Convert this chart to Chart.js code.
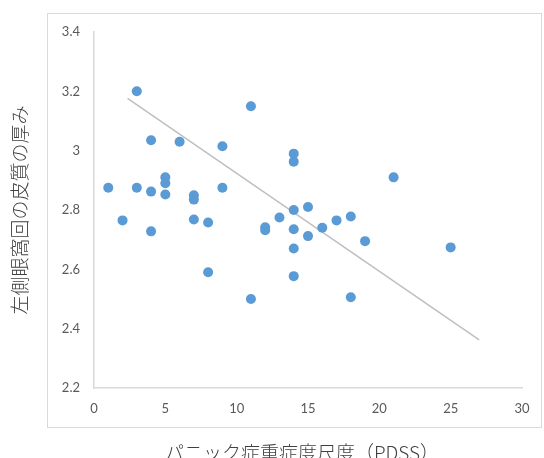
<!DOCTYPE html>
<html>
<head>
<meta charset="utf-8">
<script src="https://cdn.jsdelivr.net/npm/chart.js@4/dist/chart.umd.min.js"></script>
<style>
  html, body { margin: 0; padding: 0; background: #fff; }
  #wrap { width: 544px; height: 458px; }
</style>
</head>
<body>
<div id="wrap"><canvas id="chart" width="544" height="458"></canvas></div>
<script>
// PDSS score (x) and left orbital cortex thickness (y)
const pdss = [1, 2, 3, 3, 4, 4, 4, 5, 5, 5, 6, 7, 7, 7, 8, 8, 9, 9, 11, 11,
  12, 12, 13, 14, 14, 14, 14, 14, 14, 15, 15, 16, 17, 18, 18, 19, 21, 25];
const thickness = [2.875, 2.765, 3.2, 2.875, 3.035, 2.862, 2.728, 2.91, 2.89, 2.852,
  3.03, 2.85, 2.835, 2.768, 2.758, 2.59, 3.015, 2.875, 3.15, 2.5,
  2.742, 2.732, 2.775, 2.99, 2.963, 2.8, 2.735, 2.67, 2.577, 2.81,
  2.712, 2.74, 2.765, 2.778, 2.506, 2.695, 2.91, 2.674];

// trend line end points as drawn in the picture
const trendX = [2.35, 27];
const trendY = [3.176, 2.362];

const xTicks = [0, 5, 10, 15, 20, 25, 30];
const yTicks = [2.2, 2.4, 2.6, 2.8, 3, 3.2, 3.4];

const xTitle = "パニック症重症度尺度（PDSS）";
const yTitle = "左側眼窩回の皮質の厚み";

const tickFont = { family: "Lato, 'Open Sans', sans-serif", size: 13 };
const titleFont = "300 19px 'Noto Sans CJK JP', sans-serif";

const framePlugin = {
  id: "frame",
  beforeDraw(chart) {
    const ctx = chart.ctx;
    ctx.save();
    ctx.fillStyle = "#fff";
    ctx.fillRect(0, 0, chart.width, chart.height);
    ctx.strokeStyle = "#d9d9d9";
    ctx.lineWidth = 1;
    ctx.strokeRect(47.5, 13.5, 494, 414);
    ctx.restore();
  },
  afterDraw(chart) {
    const ctx = chart.ctx;
    ctx.save();
    ctx.fillStyle = "#404040";
    ctx.font = titleFont;
    ctx.textAlign = "center";
    ctx.textBaseline = "middle";
    ctx.fillText(xTitle, 302, 453);
    ctx.translate(20, 210);
    ctx.rotate(-Math.PI / 2);
    ctx.fillText(yTitle, 0, 0);
    ctx.restore();
  }
};

new Chart(document.getElementById("chart"), {
  type: "scatter",
  data: {
    datasets: [
      {
        label: "data",
        data: pdss.map((x, i) => ({ x: x, y: thickness[i] })),
        backgroundColor: "#5b9bd5",
        borderColor: "#5b9bd5",
        pointRadius: 5,
        borderWidth: 0,
        order: 1
      },
      {
        label: "trend",
        type: "line",
        data: trendX.map((x, i) => ({ x: x, y: trendY[i] })),
        borderColor: "#bfbfbf",
        borderWidth: 1.5,
        pointRadius: 0,
        fill: false,
        order: 2
      }
    ]
  },
  options: {
    responsive: false,
    animation: false,
    layout: { padding: { left: 0, top: 32, right: 22, bottom: 0 } },
    plugins: {
      legend: { display: false },
      tooltip: { enabled: false }
    },
    scales: {
      x: {
        type: "linear",
        min: 0,
        max: 30,
        afterBuildTicks: (axis) => { axis.ticks = xTicks.map(v => ({ value: v })); },
        afterFit: (axis) => { axis.height = 70; },
        grid: { display: false, drawTicks: false },
        border: { display: true, color: "#d9d9d9", width: 1.5 },
        ticks: { color: "#595959", font: tickFont, padding: 13, maxRotation: 0, autoSkip: false }
      },
      y: {
        type: "linear",
        min: 2.2,
        max: 3.4,
        afterBuildTicks: (axis) => { axis.ticks = yTicks.map(v => ({ value: v })); },
        afterFit: (axis) => { axis.width = 94; },
        grid: { display: false, drawTicks: false },
        border: { display: true, color: "#d9d9d9", width: 1.5 },
        ticks: { color: "#595959", font: tickFont, padding: 14, autoSkip: false,
          callback: (v) => String(v) }
      }
    }
  },
  plugins: [framePlugin]
});
</script>
</body>
</html>
